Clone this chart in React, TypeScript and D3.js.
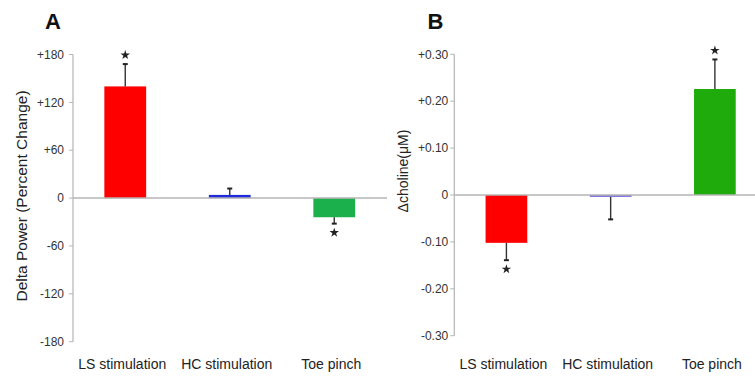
import React from "react";
import * as d3 from "d3";

const categories = ["LS stimulation", "HC stimulation", "Toe pinch"];
const valuesA = [140, 4, -24];
const errorsA = [28, 8, 8];
const sigA = [true, false, true];
const ticksA = [180, 120, 60, 0, -60, -120, -180];
const colorsA = ["#ff0000", "#1f2bdc", "#1cb04c"];

const valuesB = [-0.102, -0.004, 0.226];
const errorsB = [0.037, 0.048, 0.063];
const sigB = [true, false, true];
const ticksB = [0.3, 0.2, 0.1, 0, -0.1, -0.2, -0.3];
const colorsB = ["#ff0000", "#7268dd", "#1fab0c"];

const FONT = "'Liberation Sans', Arial, sans-serif";

type PanelProps = {
  letter: string;
  letterX: number;
  yLabel: string;
  yLabelX: number;
  yLabelY: number;
  yLabelSize: number;
  axisX: number;
  xEnd: number;
  zeroEnd: number;
  yDomain: [number, number];
  yRange: [number, number];
  values: number[];
  errors: number[];
  sig: boolean[];
  ticks: number[];
  colors: string[];
  fmt: (v: number) => string;
  tickOffset: number;
};

function Panel(p: PanelProps) {
  const x = d3
    .scaleBand<string>()
    .domain(categories)
    .range([p.axisX, p.xEnd])
    .paddingInner(0.6)
    .paddingOuter(0.3);
  const y = d3.scaleLinear().domain(p.yDomain).range(p.yRange);
  const star = d3.symbol(d3.symbolStar).size(28)();
  const y0 = y(0);
  return (
    <g>
      <text x={p.letterX} y={29} fontFamily={FONT} fontWeight="bold" fontSize={22} textAnchor="middle" fill="#111">
        {p.letter}
      </text>
      <line x1={p.axisX} x2={p.axisX} y1={y(p.yDomain[1])} y2={y(p.yDomain[0])} stroke="#b4b4b4" strokeWidth={1.2} />
      {p.ticks.map((t) => (
        <g key={t}>
          <line x1={p.axisX - 4} x2={p.axisX} y1={y(t)} y2={y(t)} stroke="#b4b4b4" strokeWidth={1} />
          <text
            x={p.axisX - p.tickOffset}
            y={y(t)}
            dy="0.35em"
            textAnchor="end"
            fontFamily={FONT}
            fontSize={12}
            fill="#333"
          >
            {p.fmt(t)}
          </text>
        </g>
      ))}
      {categories.map((c, i) => {
        const v = p.values[i];
        const bx = x(c)!;
        const bw = x.bandwidth();
        const cx = bx + bw / 2;
        const top = Math.min(y(v), y0);
        const h = Math.abs(y(v) - y0);
        const ev = v + Math.sign(v) * p.errors[i];
        const ey = y(ev);
        const dir = v >= 0 ? -1 : 1;
        return (
          <g key={c}>
            <rect x={bx} y={top} width={bw} height={Math.max(h, 1.5)} fill={p.colors[i]} />
            <line x1={cx} x2={cx} y1={y(v)} y2={ey} stroke="#333" strokeWidth={1.4} />
            <line x1={cx - 2.5} x2={cx + 2.5} y1={ey} y2={ey} stroke="#222" strokeWidth={2} />
            {p.sig[i] && (
              <path d={star!} transform={`translate(${cx},${ey + dir * 9})`} fill="#222" />
            )}
            <text x={cx - 3} y={369} textAnchor="middle" fontFamily={FONT} fontSize={14} fill="#222">
              {c}
            </text>
          </g>
        );
      })}
      <line x1={p.axisX} x2={p.zeroEnd} y1={y0} y2={y0} stroke="#b4b4b4" strokeWidth={1.5} />
      <text
        transform={`translate(${p.yLabelX},${p.yLabelY}) rotate(-90)`}
        textAnchor="middle"
        dy="0.35em"
        fontFamily={FONT}
        fontSize={p.yLabelSize}
        fill="#222"
      >
        {p.yLabel}
      </text>
    </g>
  );
}

export default function App() {
  const fmtA = (v: number) => (v > 0 ? "+" + v : String(v));
  const fmtB = (v: number) => (v > 0 ? "+" + v.toFixed(2) : v === 0 ? "0" : v.toFixed(2));
  return (
    <svg width={755} height={376} style={{ position: "absolute", left: 0, top: 0, background: "#fff" }}>
      <rect width={755} height={376} fill="#fff" />
      <Panel
        letter="A"
        letterX={53}
        yLabel="Delta Power (Percent Change)"
        yLabelX={22}
        yLabelY={196}
        yLabelSize={15.5}
        axisX={73}
        xEnd={386.5}
        zeroEnd={387}
        yDomain={[-180, 180]}
        yRange={[341.7, 54.5]}
        values={valuesA}
        errors={errorsA}
        sig={sigA}
        ticks={ticksA}
        colors={colorsA}
        fmt={fmtA}
        tickOffset={9}
      />
      <Panel
        letter="B"
        letterX={435.5}
        yLabel="Δcholine(μM)"
        yLabelX={403}
        yLabelY={171}
        yLabelSize={14}
        axisX={454.3}
        xEnd={767}
        zeroEnd={755}
        yDomain={[-0.3, 0.3]}
        yRange={[335.7, 54.3]}
        values={valuesB}
        errors={errorsB}
        sig={sigB}
        ticks={ticksB}
        colors={colorsB}
        fmt={fmtB}
        tickOffset={6}
      />
    </svg>
  );
}
